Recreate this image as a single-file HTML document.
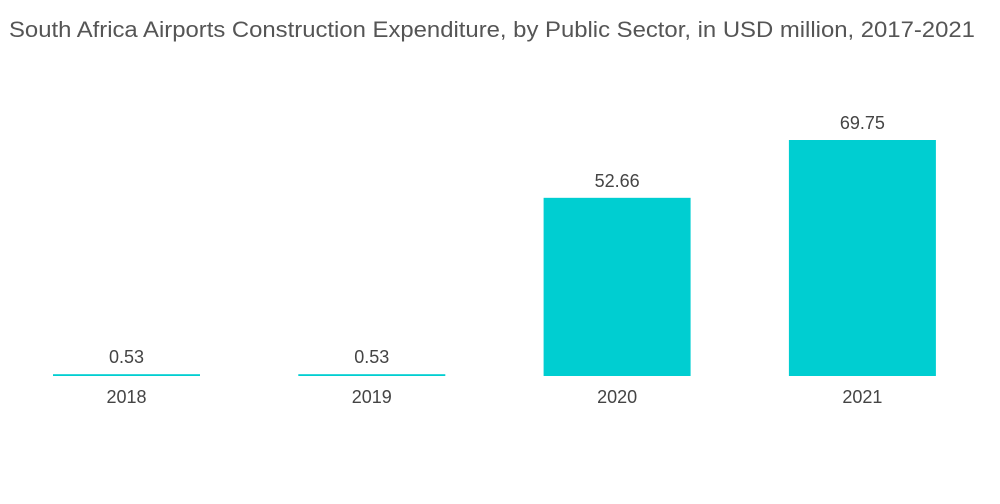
<!DOCTYPE html>
<html>
<head>
<meta charset="utf-8">
<style>
  html,body{margin:0;padding:0;background:#fff;}
  body{width:1000px;height:504px;overflow:hidden;font-family:"Liberation Sans",sans-serif;}
  #title{position:absolute;left:9px;top:17px;font-size:22px;color:#555;white-space:nowrap;transform-origin:0 0;transform:scaleX(1.085);}
</style>
</head>
<body>
<div id="title">South Africa Airports Construction Expenditure, by Public Sector, in USD million, 2017-2021</div>
<svg id="chart" width="1000" height="504" style="position:absolute;left:0;top:0"></svg>
<script>
const categories = ["2018","2019","2020","2021"];
const values = [0.53, 0.53, 52.66, 69.75];
const valueLabels = ["0.53","0.53","52.66","69.75"];

const svg = document.getElementById('chart');
const NS = 'http://www.w3.org/2000/svg';
const baseY = 376, plotLeft = 53, slot = 245.3, barW = 147;
const pxPerUnit = 236 / 69.75;
function xPos(i){ return plotLeft + i*slot; }
function yPos(v){ return baseY - v*pxPerUnit; }

categories.forEach((c,i)=>{
  const x = xPos(i), y = yPos(values[i]);
  const r = document.createElementNS(NS,'rect');
  r.setAttribute('x',x); r.setAttribute('y',y);
  r.setAttribute('width',barW); r.setAttribute('height',Math.max(baseY-y,1.5));
  r.setAttribute('fill','#00ced1');
  
  
  svg.appendChild(r);

  const t = document.createElementNS(NS,'text');
  t.setAttribute('x',x+barW/2); t.setAttribute('y',y-11);
  t.setAttribute('text-anchor','middle'); t.setAttribute('font-size','18');
  t.setAttribute('fill','#444'); t.setAttribute('font-family','Liberation Sans, sans-serif');
  t.textContent = valueLabels[i];
  
  
  svg.appendChild(t);

  const xl = document.createElementNS(NS,'text');
  xl.setAttribute('x',x+barW/2); xl.setAttribute('y',403);
  xl.setAttribute('text-anchor','middle'); xl.setAttribute('font-size','18');
  xl.setAttribute('fill','#444'); xl.setAttribute('font-family','Liberation Sans, sans-serif');
  xl.textContent = c;
  
  
  svg.appendChild(xl);
});
</script>
</body>
</html>
